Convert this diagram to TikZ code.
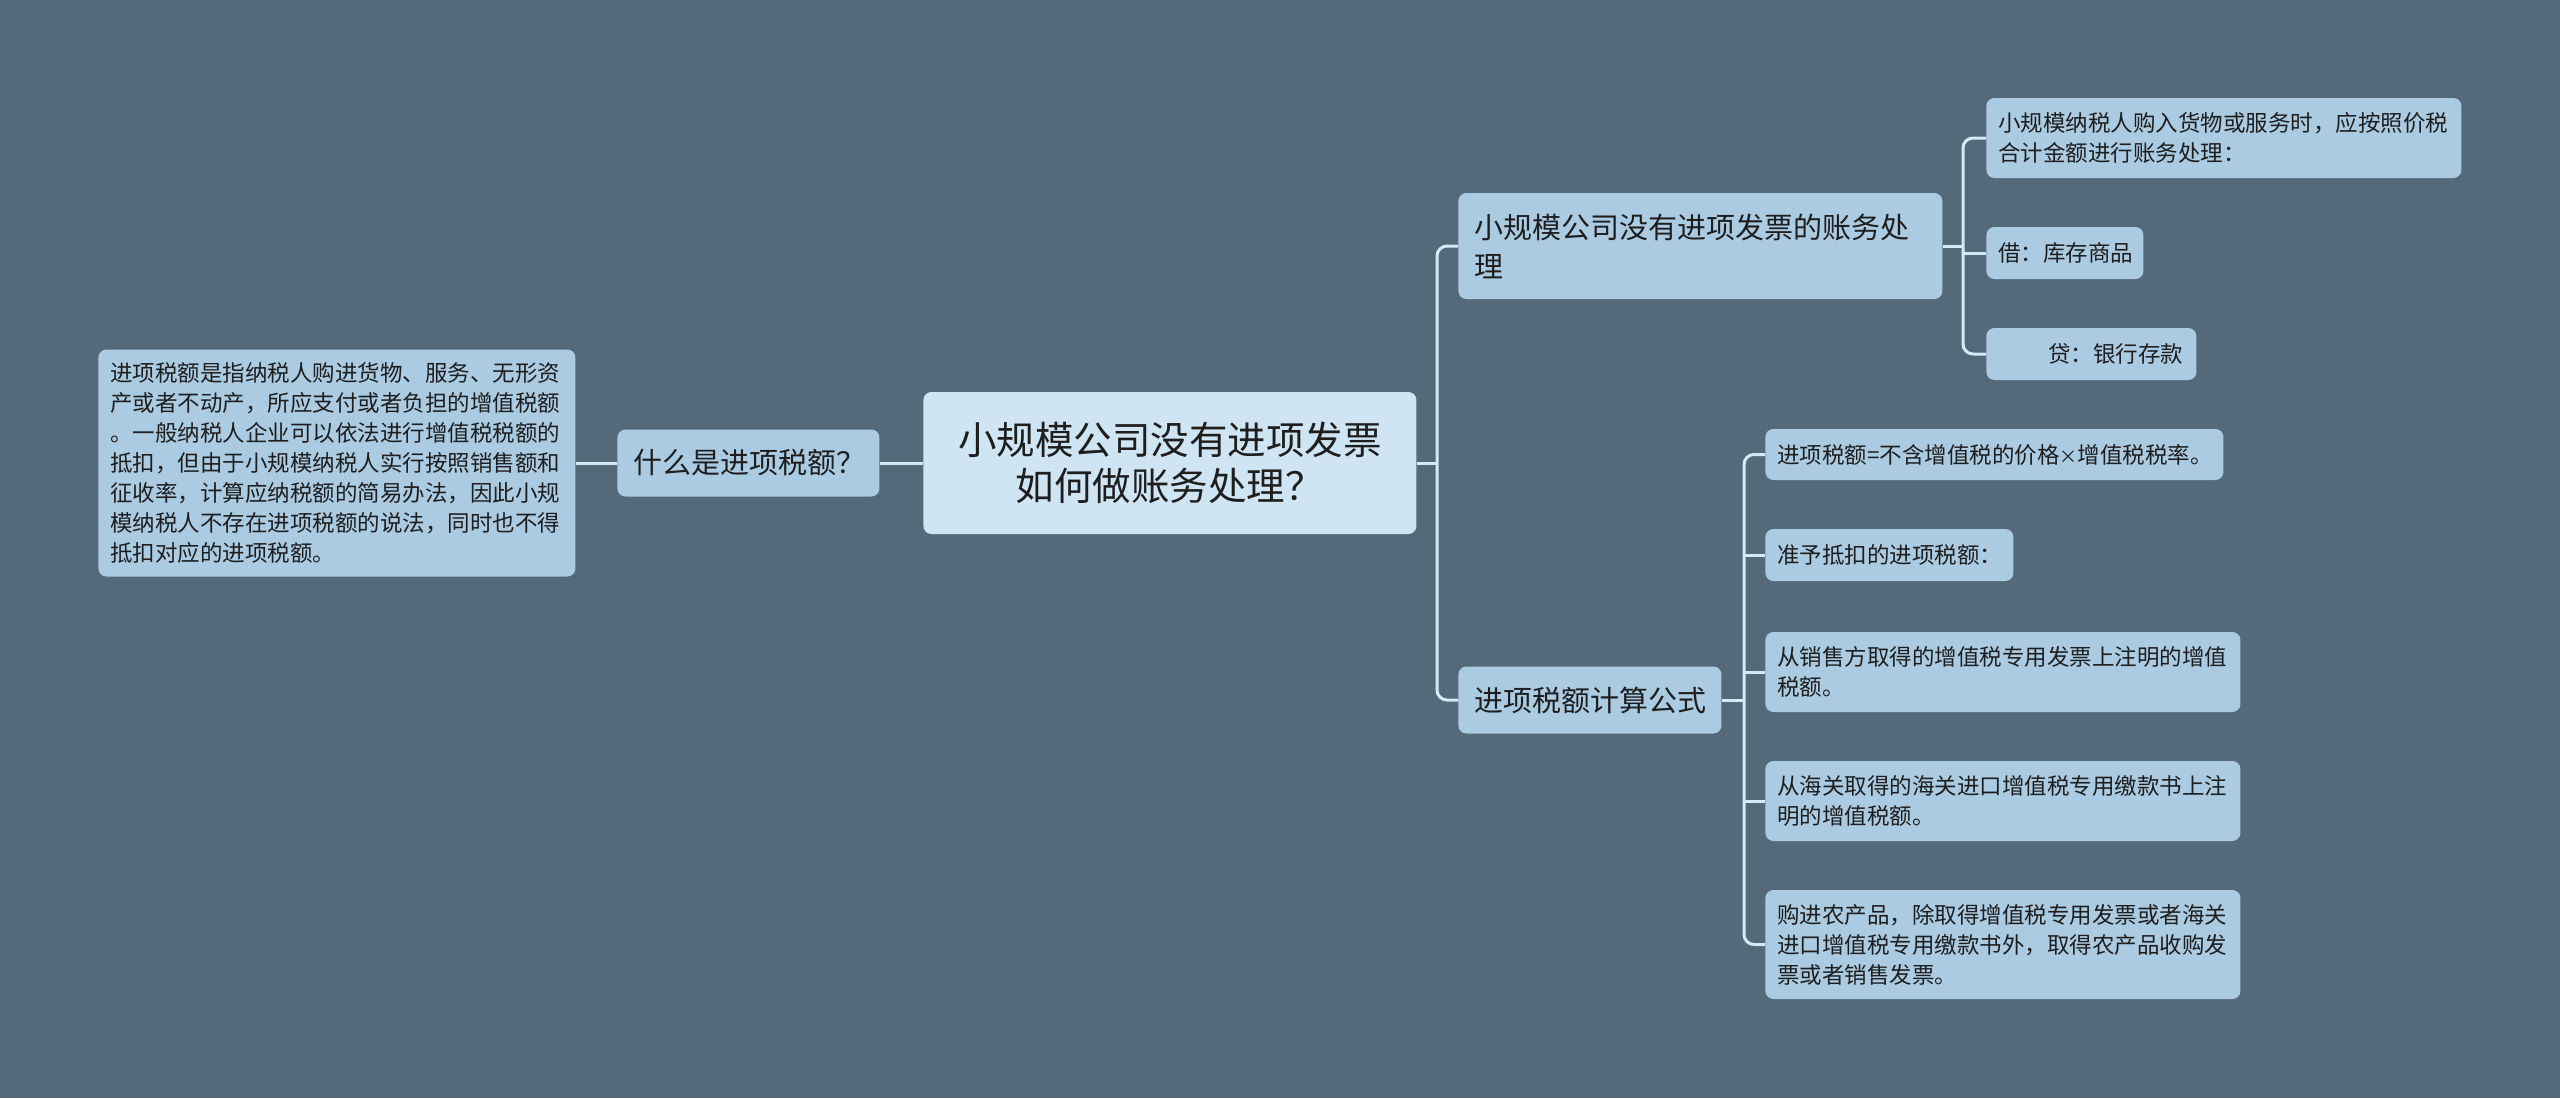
\documentclass[tikz,border=0pt]{standalone}
\usepackage{fontspec}
\newfontfamily\cjk{Noto Sans CJK SC}
\definecolor{bg}{HTML}{546979}
\definecolor{nodefill}{HTML}{ABCBE2}
\definecolor{rootfill}{HTML}{CFE5F3}
\definecolor{linec}{HTML}{D4EAF7}
\definecolor{txt}{HTML}{1E1E1E}
\begin{document}
\begin{tikzpicture}[x=1pt,y=-1pt,
  base/.style={draw=none, rounded corners=4pt, anchor=west, inner ysep=0pt, text=txt, align=left},
  leaf/.style={base, fill=nodefill, inner xsep=6pt, font=\cjk\fontsize{11.25pt}{15pt}\selectfont},
  branch/.style={base, fill=nodefill, inner xsep=8pt, font=\cjk\fontsize{14.5pt}{19.5pt}\selectfont},
  rootbox/.style={base, fill=rootfill, inner xsep=6pt, align=center, font=\cjk\fontsize{19.25pt}{23pt}\selectfont},
  conn/.style={draw=linec, line width=1.5pt, rounded corners=5pt}]
\fill[bg] (0,0) rectangle (1280,549);
\useasboundingbox (0,0) rectangle (1280,549);

\node[rootbox, text width=234.5pt, minimum height=71pt] (root) at (461.5,231.5)
  {小规模公司没有进项发票\\如何做账务处理？};
\node[branch, text width=115pt, minimum height=33.5pt] (q) at (308.5,231.5) {什么是进项税额？};
\node[leaf, text width=226.5pt, minimum height=113.5pt] (lt) at (49,231.5)
  {进项税额是指纳税人购进货物、服务、无形资\\产或者不动产，所应支付或者负担的增值税额\\。一般纳税人企业可以依法进行增值税税额的\\抵扣，但由于小规模纳税人实行按照销售额和\\征收率，计算应纳税额的简易办法，因此小规\\模纳税人不存在进项税额的说法，同时也不得\\抵扣对应的进项税额。};

\node[branch, text width=226pt, minimum height=53pt] (b1) at (729,123)
  {小规模公司没有进项发票的账务处\\理};
\node[branch, text width=115.5pt, minimum height=33.5pt] (b2) at (729,350) {进项税额计算公式};

\node[leaf, text width=225.5pt, minimum height=40pt] (l1) at (993,69)
  {小规模纳税人购入货物或服务时，应按照价税\\合计金额进行账务处理：};
\node[leaf, text width=66.5pt, minimum height=26pt] (l2) at (993,126.5) {借：库存商品};
\node[leaf, text width=93pt, minimum height=26pt] (l3) at (993,177) {\hspace*{25pt}贷：银行存款};

\node[leaf, text width=217pt, minimum height=25.5pt] (l4) at (882.5,227.25) {进项税额=不含增值税的价格{\fontsize{9pt}{9pt}\selectfont ×}增值税税率。};
\node[leaf, text width=112pt, minimum height=26pt] (l5) at (882.5,277.5) {准予抵扣的进项税额：};
\node[leaf, text width=225.5pt, minimum height=40pt] (l6) at (882.5,336)
  {从销售方取得的增值税专用发票上注明的增值\\税额。};
\node[leaf, text width=225.5pt, minimum height=40pt] (l7) at (882.5,400.5)
  {从海关取得的海关进口增值税专用缴款书上注\\明的增值税额。};
\node[leaf, text width=225.5pt, minimum height=54.5pt] (l8) at (882.5,472.25)
  {购进农产品，除取得增值税专用发票或者海关\\进口增值税专用缴款书外，取得农产品收购发\\票或者销售发票。};

\coordinate (s0) at (718.5,231.5);
\coordinate (s1) at (981.5,123);
\coordinate (s2) at (872,350);

\draw[conn] (root.west) -- (q.east);
\draw[conn] (q.west) -- (lt.east);
% root spine
\draw[conn] (b1.west) -| (s0) |- (b2.west);
\draw[conn] (root.east) -- (s0);
% branch 1 spine
\draw[conn] (l1.west) -| (s1) |- (l3.west);
\draw[conn] (b1.east) -- (s1);
\draw[conn] (s1 |- l2.west) -- (l2.west);
% branch 2 spine
\draw[conn] (l4.west) -| (s2) |- (l8.west);
\draw[conn] (b2.east) -- (s2);
\foreach \n in {l5,l6,l7} \draw[conn] (s2 |- \n.west) -- (\n.west);
\end{tikzpicture}
\end{document}
